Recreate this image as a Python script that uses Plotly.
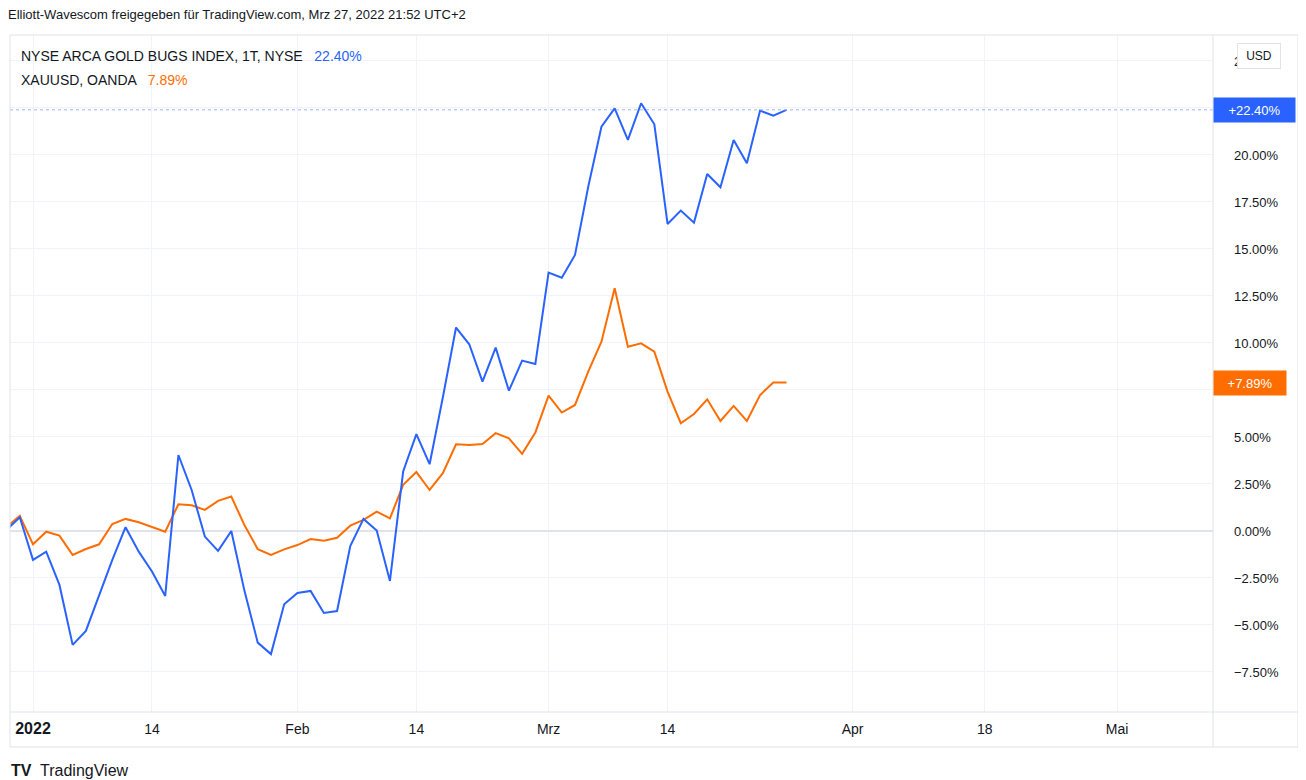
import numpy as np
import pandas as pd
import plotly.graph_objects as go

# ---------------- data ----------------
dates = [
    "2021-12-30", "2021-12-31",
    "2022-01-03", "2022-01-04", "2022-01-05", "2022-01-06", "2022-01-07",
    "2022-01-10", "2022-01-11", "2022-01-12", "2022-01-13", "2022-01-14",
    "2022-01-18", "2022-01-19", "2022-01-20", "2022-01-21",
    "2022-01-24", "2022-01-25", "2022-01-26", "2022-01-27", "2022-01-28",
    "2022-01-31", "2022-02-01", "2022-02-02", "2022-02-03", "2022-02-04",
    "2022-02-07", "2022-02-08", "2022-02-09", "2022-02-10", "2022-02-11",
    "2022-02-14", "2022-02-15", "2022-02-16", "2022-02-17", "2022-02-18",
    "2022-02-22", "2022-02-23", "2022-02-24", "2022-02-25",
    "2022-02-28", "2022-03-01", "2022-03-02", "2022-03-03", "2022-03-04",
    "2022-03-07", "2022-03-08", "2022-03-09", "2022-03-10", "2022-03-11",
    "2022-03-14", "2022-03-15", "2022-03-16", "2022-03-17", "2022-03-18",
    "2022-03-21", "2022-03-22", "2022-03-23", "2022-03-24", "2022-03-25",
]

gold_bugs = [
    0.05, 0.73,
    -1.54, -1.10, -2.87, -6.06, -5.32,
    -3.40, -1.54, 0.20, -1.10, -2.16,
    -3.46, 4.04, 2.18, -0.30,
    -1.06, 0.00, -3.20, -5.94, -6.55,
    -3.90, -3.30, -3.19, -4.36, -4.26,
    -0.80, 0.64, 0.02, -2.66, 3.16,
    5.15, 3.55, 7.10, 10.82, 9.93,
    7.94, 9.75, 7.46, 9.06,
    8.88, 13.74, 13.47, 14.68, 18.31,
    21.50, 22.48, 20.80, 22.75, 21.63,
    16.33, 17.04, 16.40, 18.99, 18.28,
    20.80, 19.56, 22.36, 22.09, 22.40,
]

xauusd = [
    0.22, 0.80,
    -0.71, -0.04, -0.25, -1.28, -0.96,
    -0.71, 0.37, 0.64, 0.46, 0.20,
    -0.04, 1.42, 1.37, 1.12,
    1.60, 1.83, 0.30, -0.97, -1.28,
    -0.98, -0.75, -0.43, -0.52, -0.36,
    0.28, 0.59, 1.03, 0.67, 2.45,
    3.13, 2.18, 3.07, 4.61, 4.57,
    4.63, 5.20, 4.93, 4.10,
    5.24, 7.20, 6.30, 6.70, 8.47,
    10.07, 12.91, 9.80, 9.98, 9.54,
    7.41, 5.73, 6.22, 7.00, 5.85,
    6.65, 5.85, 7.23, 7.89, 7.89,
]

holidays = ["2022-01-17", "2022-02-21", "2022-04-15"]

tick_dates = ["2022-01-03", "2022-01-14", "2022-02-01", "2022-02-14", "2022-03-01",
              "2022-03-14", "2022-04-01", "2022-04-18", "2022-05-02"]
tick_labels = ["<span style='font-size:16px'><b>2022</b></span>", "14", "Feb", "14", "Mrz",
               "14", "Apr", "18", "Mai"]

name_a = "NYSE ARCA GOLD BUGS INDEX, 1T, NYSE"
name_b = "XAUUSD, OANDA"
header = "Elliott-Wavescom freigegeben für TradingView.com, Mrz 27, 2022 21:52 UTC+2"

# ---------------- trading-day scale ----------------
cal = pd.bdate_range("2021-12-30", "2022-06-30")
cal = cal[~cal.isin(pd.to_datetime(holidays))]
origin = cal.get_loc(pd.Timestamp("2022-01-03"))
pos = {d.strftime("%Y-%m-%d"): i - origin for i, d in enumerate(cal)}

x_idx = [pos[d] for d in dates]
tick_idx = [pos[d] for d in tick_dates]

# ---------------- layout geometry ----------------
# the page body adds an 8px margin; target positions are given in window pixels
OFF = 8
W, H = 1306 - OFF, 780 - OFF
L, R, T, B = 2, 93, 27, 68
PW, PH = W - L - R, H - T - B


def px(x):
    return (x - OFF - L) / PW


def py(y):
    return (H - B - (y - OFF)) / PH


BLUE = "#2962ff"
ORANGE = "#ff6d00"
TXT = "#131722"
GRID = "#f0f3fa"
FRAME = "#e0e3eb"
FONT = "Liberation Sans, Arial, sans-serif"

fig = go.Figure()
fig.add_trace(go.Scatter(x=x_idx, y=xauusd, mode="lines",
                         line=dict(color=ORANGE, width=2), name=name_b, hoverinfo="skip"))
fig.add_trace(go.Scatter(x=x_idx, y=gold_bugs, mode="lines",
                         line=dict(color=BLUE, width=2), name=name_a, hoverinfo="skip"))

last_a = gold_bugs[-1]
last_b = xauusd[-1]

yt = np.arange(-7.5, 25.01, 2.5)
ytext = []
for v in yt:
    if abs(v - last_a) < 1.0 or abs(v - last_b) < 1.0:
        ytext.append("")
    else:
        s = f"{abs(v):.2f}%"
        ytext.append(("\u2212" + s) if v < 0 else s)

fig.update_layout(
    width=W, height=H,
    margin=dict(l=L, r=R, t=T, b=B),
    paper_bgcolor="white", plot_bgcolor="white",
    showlegend=False,
    font=dict(family=FONT, color=TXT, size=12),
    xaxis=dict(
        range=[-1.74, 89.26],
        tickvals=tick_idx, ticktext=tick_labels,
        showgrid=True, gridcolor=GRID, gridwidth=1,
        zeroline=False, showline=False, ticks="",
        tickfont=dict(size=14, color=TXT, family=FONT),
        ticklabelstandoff=7,
        fixedrange=True,
    ),
    yaxis=dict(
        side="right",
        range=[-9.63, 26.38],
        tickvals=list(yt), ticktext=ytext,
        showgrid=True, gridcolor=GRID, gridwidth=1,
        zeroline=True, zerolinecolor=FRAME, zerolinewidth=2,
        showline=False, ticks="",
        tickfont=dict(size=13, color=TXT, family=FONT),
        ticklabelstandoff=20,
        fixedrange=True,
    ),
)

shapes = []
# price line (dotted) for the main series
shapes.append(dict(type="line", xref="paper", yref="y", x0=0, x1=1, y0=last_a, y1=last_a,
                   line=dict(color="#9fb5ff", width=1, dash="dot")))
# pane frame
shapes.append(dict(type="rect", xref="paper", yref="paper", x0=px(10), x1=px(1298),
                   y0=py(747), y1=py(35), line=dict(color=FRAME, width=1)))
shapes.append(dict(type="line", xref="paper", yref="paper", x0=px(1213), x1=px(1213),
                   y0=py(747), y1=py(35), line=dict(color=FRAME, width=1)))
shapes.append(dict(type="line", xref="paper", yref="paper", x0=px(10), x1=px(1298),
                   y0=py(712), y1=py(712), line=dict(color=FRAME, width=1)))
fig.update_layout(shapes=shapes)

ann = []
ann.append(dict(text=header, xref="paper", yref="paper", x=px(6), y=py(14),
                xanchor="left", yanchor="middle", showarrow=False,
                font=dict(size=13, color=TXT, family=FONT)))
ann.append(dict(text=f"{name_a}   <span style='color:{BLUE}'>{last_a:.2f}%</span>",
                xref="paper", yref="paper", x=px(19), y=py(56),
                xanchor="left", yanchor="middle", showarrow=False,
                font=dict(size=14, color=TXT, family=FONT)))
ann.append(dict(text=f"{name_b}   <span style='color:{ORANGE}'>{last_b:.2f}%</span>",
                xref="paper", yref="paper", x=px(19), y=py(80),
                xanchor="left", yanchor="middle", showarrow=False,
                font=dict(size=14, color=TXT, family=FONT)))
# last value labels on the price scale
ann.append(dict(text=f"+{last_a:.2f}%", xref="paper", yref="y", x=px(1213), y=last_a,
                xanchor="left", yanchor="middle", showarrow=False,
                bgcolor=BLUE, width=75, height=18, borderpad=3,
                font=dict(size=13, color="white", family=FONT)))
ann.append(dict(text=f"+{last_b:.2f}%", xref="paper", yref="y", x=px(1213), y=last_b,
                xanchor="left", yanchor="middle", showarrow=False,
                bgcolor=ORANGE, width=66, height=18, borderpad=3,
                font=dict(size=13, color="white", family=FONT)))
# currency badge
ann.append(dict(text="USD", xref="paper", yref="paper", x=px(1237), y=py(56),
                xanchor="left", yanchor="middle", showarrow=False,
                bgcolor="white", bordercolor=FRAME, borderwidth=1, borderpad=5,
                width=32,
                font=dict(size=12, color=TXT, family=FONT)))
# branding
ann.append(dict(text="<b>TV</b>  TradingView", xref="paper", yref="paper", x=px(9), y=py(770),
                xanchor="left", yanchor="middle", showarrow=False,
                font=dict(size=16, color=TXT, family=FONT)))
fig.update_layout(annotations=ann)

fig.write_html("out.html")
